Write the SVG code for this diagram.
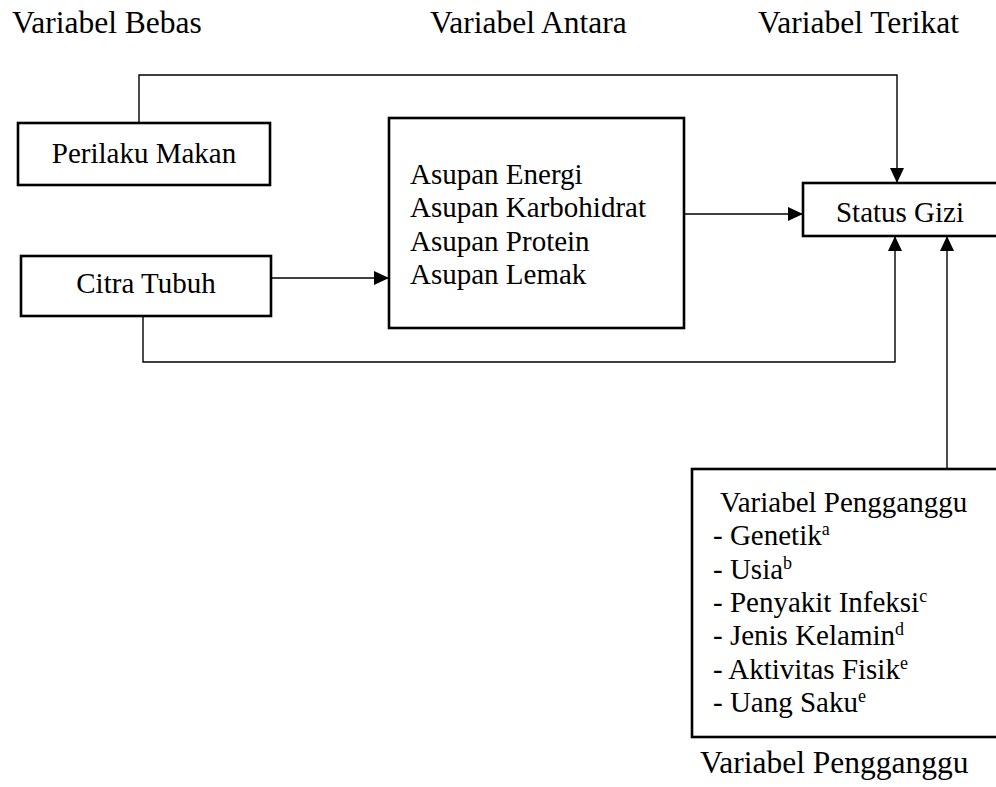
<svg xmlns="http://www.w3.org/2000/svg" width="996" height="787" viewBox="0 0 996 787">
<style>
text{font-family:"Liberation Serif","Times New Roman",serif;fill:#000}
.t{font-size:31.5px}
.b{font-size:29px}
.sup{font-size:18px}
.box{fill:#fff;stroke:#000;stroke-width:2.6}
.ln{fill:none;stroke:#000;stroke-width:1.4}
</style>
<defs>
<marker id="ah" viewBox="0 0 15 14" refX="15" refY="7" markerWidth="15" markerHeight="14" markerUnits="userSpaceOnUse" orient="auto">
<path d="M0,0 L15,7 L0,14 z" fill="#000"/>
</marker>
</defs>
<rect width="996" height="787" fill="#fff"/>
<g id="titles">
<text class="t" x="12" y="33">Variabel Bebas</text>
<text class="t" x="430" y="33">Variabel Antara</text>
<text class="t" x="758" y="33">Variabel Terikat</text>
<text class="t" x="700" y="773">Variabel Pengganggu</text>
</g>
<g id="connectors">
<path class="ln" d="M139,123 V75 H897 V183" marker-end="url(#ah)"/>
<path class="ln" d="M143,316 V362 H895 V236" marker-end="url(#ah)"/>
<path class="ln" d="M271,278 H389" marker-end="url(#ah)"/>
<path class="ln" d="M684,214 H803" marker-end="url(#ah)"/>
<path class="ln" d="M947,468 V236" marker-end="url(#ah)"/>
</g>
<g id="perilaku">
<rect class="box" x="18" y="123" width="252" height="62"/>
<text class="b" x="144" y="163" text-anchor="middle">Perilaku Makan</text>
</g>
<g id="citra">
<rect class="box" x="21" y="256" width="250" height="60"/>
<text class="b" x="146" y="293" text-anchor="middle">Citra Tubuh</text>
</g>
<g id="asupan">
<rect class="box" x="389" y="118" width="295" height="210"/>
<text class="b" x="410" y="184">Asupan Energi</text>
<text class="b" x="410" y="217">Asupan Karbohidrat</text>
<text class="b" x="410" y="251">Asupan Protein</text>
<text class="b" x="410" y="284">Asupan Lemak</text>
</g>
<g id="status">
<rect class="box" x="803" y="183" width="220" height="53"/>
<text class="b" x="900" y="222" text-anchor="middle">Status Gizi</text>
</g>
<g id="pengganggu">
<rect class="box" x="692" y="469" width="330" height="268"/>
<text class="b" x="720" y="512">Variabel Pengganggu</text>
<text class="b" x="713" y="545">- Genetik<tspan class="sup" dy="-10">a</tspan></text>
<text class="b" x="713" y="579">- Usia<tspan class="sup" dy="-10">b</tspan></text>
<text class="b" x="713" y="612">- Penyakit Infeksi<tspan class="sup" dy="-10">c</tspan></text>
<text class="b" x="713" y="645">- Jenis Kelamin<tspan class="sup" dy="-10">d</tspan></text>
<text class="b" x="713" y="679">- Aktivitas Fisik<tspan class="sup" dy="-10">e</tspan></text>
<text class="b" x="713" y="712">- Uang Saku<tspan class="sup" dy="-10">e</tspan></text>
</g>
</svg>
